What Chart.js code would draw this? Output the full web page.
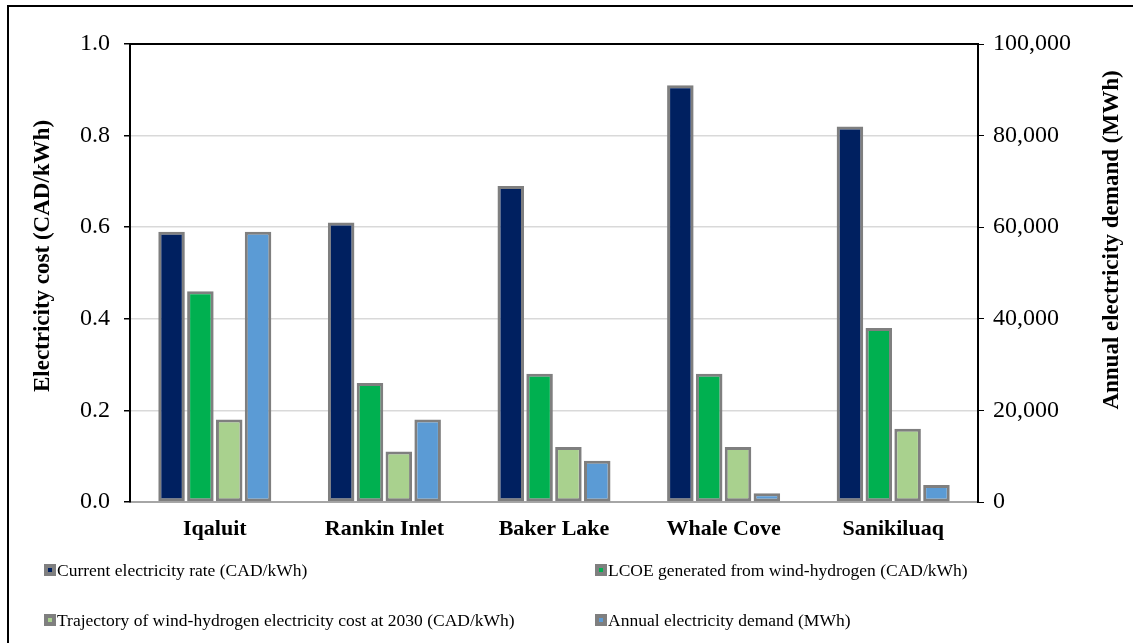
<!DOCTYPE html>
<html>
<head>
<meta charset="utf-8">
<script src="https://cdn.jsdelivr.net/npm/chart.js@4.4.1/dist/chart.umd.min.js"></script>
<style>
  html, body { margin: 0; padding: 0; background: #fff; overflow: hidden; }
  #wrap { position: relative; width: 1133px; height: 643px; }
  #frame { position: absolute; left: 7px; top: 5px; width: 1200px; height: 700px;
           border-left: 2px solid #000; border-top: 2px solid #000; pointer-events: none; }
  canvas { position: absolute; left: 0; top: 0; }
  .leg { position: absolute; font-family: "Liberation Serif", "Times New Roman", serif;
         font-size: 17.5px; color: #000; white-space: nowrap; line-height: 20px; }
  .leg .box { position: absolute; left: 0; top: 4px; width: 4px; height: 4px;
              border: 4px solid #7F7F7F; box-sizing: content-box; }
  .leg .txt { position: absolute; left: 13px; top: 0; }
</style>
</head>
<body>
<div id="wrap">
  <canvas id="chart" width="1133" height="643"></canvas>
  <div id="frame"></div>
  <div id="legend"></div>
</div>
<script>
// Communities and per-community values
const categories = ['Iqaluit', 'Rankin Inlet', 'Baker Lake', 'Whale Cove', 'Sanikiluaq'];
const currentRate = [0.59, 0.61, 0.69, 0.91, 0.82];          // CAD/kWh
const lcoeWindHydrogen = [0.46, 0.26, 0.28, 0.28, 0.38];     // CAD/kWh
const trajectory2030 = [0.18, 0.11, 0.12, 0.12, 0.16];       // CAD/kWh
const annualDemand = [59000, 18000, 9000, 1900, 3700];       // MWh

const seriesNames = [
  'Current electricity rate (CAD/kWh)',
  'LCOE generated from wind-hydrogen (CAD/kWh)',
  'Trajectory of wind-hydrogen electricity cost at 2030 (CAD/kWh)',
  'Annual electricity demand (MWh)'
];
const leftTicks = [0, 0.2, 0.4, 0.6, 0.8, 1.0];
const rightTicks = [0, 20000, 40000, 60000, 80000, 100000];

const colors = ['#002060', '#00B050', '#A9D18E', '#5B9BD5'];
const edge = '#7F7F7F';
const serif = '"Liberation Serif", "Times New Roman", serif';

function barSet(label, data, color, axis) {
  return {
    label, data, yAxisID: axis,
    backgroundColor: color, borderColor: edge, borderWidth: 3,
    borderSkipped: false,
    categoryPercentage: 0.68, barPercentage: 0.92
  };
}

// Axis titles and the black top edge of the plot frame
const decorations = {
  id: 'decorations',
  afterDraw(chart) {
    const { ctx, chartArea } = chart;
    ctx.save();
    ctx.strokeStyle = '#000';
    ctx.lineWidth = 2;
    ctx.beginPath();
    ctx.moveTo(chartArea.left - 1, chartArea.top);
    ctx.lineTo(chartArea.right + 1, chartArea.top);
    ctx.stroke();

    ctx.fillStyle = '#000';
    ctx.font = 'bold 23px ' + serif;
    ctx.textAlign = 'center';
    ctx.textBaseline = 'middle';

    ctx.save();
    ctx.translate(43, 256);
    ctx.rotate(-Math.PI / 2);
    ctx.fillText('Electricity cost (CAD/kWh)', 0, 0);
    ctx.restore();

    ctx.save();
    ctx.translate(1112, 240);
    ctx.rotate(-Math.PI / 2);
    ctx.fillText('Annual electricity demand (MWh)', 0, 0);
    ctx.restore();
    ctx.restore();
  }
};

const chart = new Chart(document.getElementById('chart'), {
  type: 'bar',
  data: {
    labels: categories,
    datasets: [
      barSet(seriesNames[0], currentRate, colors[0], 'y'),
      barSet(seriesNames[1], lcoeWindHydrogen, colors[1], 'y'),
      barSet(seriesNames[2], trajectory2030, colors[2], 'y'),
      barSet(seriesNames[3], annualDemand, colors[3], 'y1')
    ]
  },
  options: {
    responsive: false,
    animation: false,
    layout: { padding: { left: 10, right: 0, top: 44, bottom: 0 } },
    plugins: { legend: { display: false }, tooltip: { enabled: false } },
    scales: {
      x: {
        grid: { display: false, drawTicks: false },
        border: { color: '#A6A6A6', width: 2 },
        ticks: { color: '#000', padding: 14, font: { family: serif, size: 22, weight: 'bold' } },
        afterFit(s) { s.height = 141; }
      },
      y: {
        position: 'left', min: 0, max: 1,
        afterBuildTicks(s) { s.ticks = leftTicks.map(v => ({ value: v })); },
        ticks: { color: '#000', padding: 14, font: { family: serif, size: 24 },
                 callback: v => Number(v).toFixed(1) },
        grid: { color: '#D9D9D9', lineWidth: 1.5, tickColor: '#000', tickLength: 6 },
        border: { color: '#000', width: 2 },
        afterFit(s) { s.width = 120; }
      },
      y1: {
        position: 'right', min: 0, max: 100000,
        afterBuildTicks(s) { s.ticks = rightTicks.map(v => ({ value: v })); },
        ticks: { color: '#000', padding: 9, font: { family: serif, size: 24 },
                 callback: v => Number(v).toLocaleString('en-US') },
        grid: { drawOnChartArea: false, tickColor: '#000', tickLength: 6 },
        border: { color: '#000', width: 2 },
        afterFit(s) { s.width = 155; }
      }
    }
  },
  plugins: [decorations]
});

// Legend in two columns below the plot
const legendPos = [
  { x: 44, y: 560 }, { x: 595, y: 560 },
  { x: 44, y: 610 }, { x: 595, y: 610 }
];
const legend = document.getElementById('legend');
chart.data.datasets.forEach((ds, i) => {
  const item = document.createElement('div');
  item.className = 'leg';
  item.style.left = legendPos[i].x + 'px';
  item.style.top = legendPos[i].y + 'px';
  const box = document.createElement('span');
  box.className = 'box';
  box.style.background = ds.backgroundColor;
  const txt = document.createElement('span');
  txt.className = 'txt';
  txt.textContent = ds.label;
  item.appendChild(box);
  item.appendChild(txt);
  legend.appendChild(item);
});
</script>
</body>
</html>
